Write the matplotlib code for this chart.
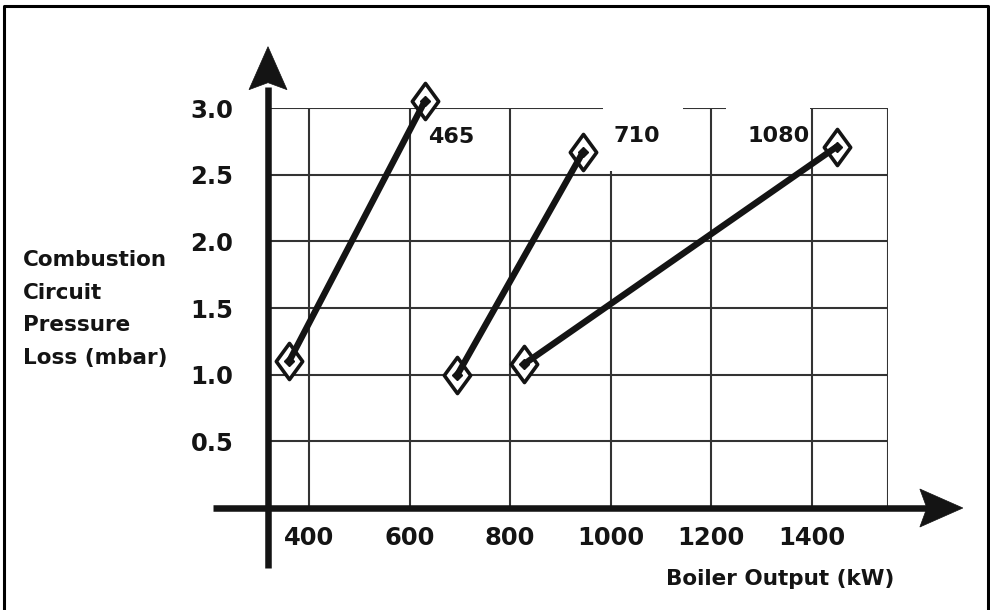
import matplotlib
matplotlib.use('Agg')
import matplotlib.pyplot as plt
from matplotlib.path import Path
from matplotlib.patches import Polygon
from matplotlib.lines import Line2D
from matplotlib.transforms import IdentityTransform

# ---------------- data ----------------
series_names = ['465', '710', '1080']
output_465 = [360, 630]
loss_465 = [1.10, 3.05]
output_710 = [695, 945]
loss_710 = [1.00, 2.67]
output_1080 = [828, 1450]
loss_1080 = [1.08, 2.71]
label_x = [637, 1005, 1272]
label_y = [2.78, 2.79, 2.79]

x_ticks = [400, 600, 800, 1000, 1200, 1400]
x_tick_labels = ['400', '600', '800', '1000', '1200', '1400']
y_ticks = [0.5, 1.0, 1.5, 2.0, 2.5, 3.0]
y_tick_labels = ['0.5', '1.0', '1.5', '2.0', '2.5', '3.0']

x_label = 'Boiler Output (kW)'
y_label = 'Combustion\nCircuit\nPressure\nLoss (mbar)'

# ---------------- layout ----------------
X_MIN, X_MAX = 318, 1552
Y_MIN, Y_MAX = 0.0, 3.0
INK = '#141414'
GRID = '#333333'

fig = plt.figure(figsize=(9.9, 6.1), dpi=100)
fig.patch.set_facecolor('white')
ax = fig.add_axes([268 / 990, 102 / 610, 620 / 990, 400 / 610])
ax.set_xlim(X_MIN, X_MAX)
ax.set_ylim(Y_MIN, Y_MAX)
for s in ax.spines.values():
    s.set_visible(False)

# grid
ax.vlines([400, 600, 800, 1200, 1400, X_MAX], Y_MIN, Y_MAX, color=GRID, lw=1.5, zorder=1)
ax.vlines([1000], Y_MIN, 2.53, color=GRID, lw=1.5, zorder=1)
ax.hlines([0.5, 1.0, 1.5, 2.0, 2.5], X_MIN, X_MAX, color=GRID, lw=1.5, zorder=1)
ax.hlines([3.0, 3.0, 3.0], [X_MIN, 1144, 1397], [985, 1230, X_MAX], color=GRID, lw=1.5, zorder=1)

# ticks
ax.set_xticks(x_ticks)
ax.set_xticklabels(x_tick_labels)
ax.set_yticks(y_ticks)
ax.set_yticklabels(y_tick_labels)
ax.tick_params(axis='x', length=0, pad=13, labelsize=17.5, colors=INK)
ax.tick_params(axis='y', length=0, pad=25, labelsize=17.5, colors=INK)
for lab in ax.get_xticklabels() + ax.get_yticklabels():
    lab.set_fontweight('bold')
    lab.set_fontfamily('DejaVu Sans')

# axis lines with arrows
X_AXIS_START, X_AXIS_TIP = 209, 1701
Y_AXIS_START, Y_AXIS_TIP = -0.45, 3.46
ax.plot([X_AXIS_START, X_AXIS_TIP - 60], [0, 0], color=INK, lw=4.7, clip_on=False,
        solid_capstyle='butt', zorder=6)
ax.plot([X_MIN, X_MIN], [Y_AXIS_START, Y_AXIS_TIP - 0.3], color=INK, lw=4.7, clip_on=False,
        solid_capstyle='butt', zorder=6)

fig.canvas.draw()
tx, ty = ax.transData.transform((X_AXIS_TIP, 0))
L, W, N = 43, 19, 7
ax.add_artist(Polygon([(tx, ty), (tx - L, ty + W), (tx - L + N, ty), (tx - L, ty - W)],
                      closed=True, transform=IdentityTransform(), facecolor=INK,
                      edgecolor=INK, lw=0.5, clip_on=False, zorder=7))
tx, ty = ax.transData.transform((X_MIN, Y_AXIS_TIP))
ax.add_artist(Polygon([(tx, ty), (tx + W, ty - L), (tx, ty - L + N), (tx - W, ty - L)],
                      closed=True, transform=IdentityTransform(), facecolor=INK,
                      edgecolor=INK, lw=0.5, clip_on=False, zorder=7))

# data series
diamond = Path([(0, 1), (0.73, 0), (0, -1), (-0.73, 0), (0, 1)],
               [Path.MOVETO, Path.LINETO, Path.LINETO, Path.LINETO, Path.CLOSEPOLY])
for xs, ys in [(output_465, loss_465), (output_710, loss_710), (output_1080, loss_1080)]:
    ax.plot(xs, ys, ls='none', marker=diamond, ms=26, mfc='white', mec=INK, mew=2.6,
            zorder=8, clip_on=False)
    ax.plot(xs, ys, color=INK, lw=4.6, solid_capstyle='round', zorder=9, clip_on=False)
    ax.plot(xs, ys, ls='none', marker='D', ms=5, color=INK, zorder=10, clip_on=False)

for name, lx, ly in zip(series_names, label_x, label_y):
    ax.text(lx, ly, name, ha='left', va='center', fontsize=16, fontweight='bold',
            family='DejaVu Sans', color=INK, zorder=11)

# axis titles
fig.text(23 / 990, 1 - 309 / 610, y_label, ha='left', va='center', fontsize=15.5,
         fontweight='bold', family='DejaVu Sans', color=INK, linespacing=1.8,
         multialignment='left')
fig.text(780 / 990, 1 - 579 / 610, x_label, ha='center', va='center', fontsize=15.5,
         fontweight='bold', family='DejaVu Sans', color=INK)

# outer frame (open at the bottom)
fl, ft, fr = 4 / 990, 1 - 6 / 610, 988 / 990
fig.add_artist(Line2D([fl, fl, fr, fr], [-0.01, ft, ft, -0.01], transform=fig.transFigure,
                      color='black', lw=2.2))

fig.savefig('out.png', dpi=100)
